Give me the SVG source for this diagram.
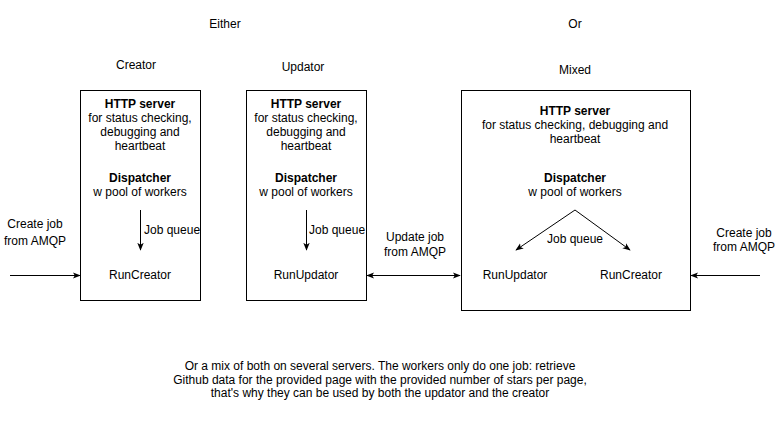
<svg xmlns="http://www.w3.org/2000/svg" width="782" height="422" viewBox="0 0 782 422">
<style>
text{font-family:"Liberation Sans",Arial,sans-serif;font-size:12px;fill:#000;text-anchor:middle}
.b{font-weight:bold}
.l{text-anchor:start}
.box{fill:#fff;stroke:#000;stroke-width:1}
.c{stroke:#000;stroke-width:1;fill:none}
</style>
<defs>
<marker id="ah" viewBox="0 0 10 10" refX="9" refY="5" markerWidth="8" markerHeight="8" orient="auto-start-reverse" markerUnits="userSpaceOnUse">
<path d="M0,1 L10,5 L0,9 L2.5,5 Z" fill="#000"/>
</marker>
</defs>
<rect width="782" height="422" fill="#fff"/>
<g id="titles">
<text x="225" y="28">Either</text>
<text x="575" y="28">Or</text>
<text x="136" y="69">Creator</text>
<text x="303" y="71">Updator</text>
<text x="575" y="74">Mixed</text>
</g>
<g id="creator">
<rect class="box" x="80.5" y="90.5" width="120" height="210"/>
<text class="b" x="140" y="108">HTTP server</text>
<text x="140" y="122">for status checking,</text>
<text x="140" y="136">debugging and</text>
<text x="140" y="150">heartbeat</text>
<text class="b" x="140" y="182">Dispatcher</text>
<text x="140" y="196">w pool of workers</text>
<text class="l" x="144" y="234">Job queue</text>
<text x="140" y="279">RunCreator</text>
</g>
<g id="updator">
<rect class="box" x="246.5" y="90.5" width="120" height="210"/>
<text class="b" x="306" y="108">HTTP server</text>
<text x="306" y="122">for status checking,</text>
<text x="306" y="136">debugging and</text>
<text x="306" y="150">heartbeat</text>
<text class="b" x="306" y="182">Dispatcher</text>
<text x="306" y="196">w pool of workers</text>
<text class="l" x="309" y="234">Job queue</text>
<text x="306" y="279">RunUpdator</text>
</g>
<g id="mixed">
<rect class="box" x="461.5" y="90.5" width="229" height="220"/>
<text class="b" x="575" y="115">HTTP server</text>
<text x="575" y="129">for status checking, debugging and</text>
<text x="575" y="143">heartbeat</text>
<text class="b" x="575" y="182">Dispatcher</text>
<text x="575" y="196">w pool of workers</text>
<text x="575" y="243">Job queue</text>
<text x="515" y="279">RunUpdator</text>
<text x="631" y="279">RunCreator</text>
</g>
<g id="labels">
<text x="35" y="228">Create job</text>
<text x="35" y="245">from AMQP</text>
<text x="415" y="241">Update job</text>
<text x="415" y="256">from AMQP</text>
<text x="744" y="237">Create job</text>
<text x="744" y="251">from AMQP</text>
</g>
<g id="connectors">
<line class="c" x1="10" y1="275.5" x2="80" y2="275.5" marker-end="url(#ah)"/>
<line class="c" x1="140.5" y1="210" x2="140.5" y2="250" marker-end="url(#ah)"/>
<line class="c" x1="306.5" y1="210" x2="306.5" y2="250" marker-end="url(#ah)"/>
<line class="c" x1="367" y1="275.5" x2="460" y2="275.5" marker-start="url(#ah)" marker-end="url(#ah)"/>
<line class="c" x1="575" y1="210" x2="516" y2="250" marker-end="url(#ah)"/>
<line class="c" x1="575" y1="210" x2="630" y2="250" marker-end="url(#ah)"/>
<line class="c" x1="760" y1="275.5" x2="691" y2="275.5" marker-end="url(#ah)"/>
</g>
<g id="note">
<text x="380" y="370">Or a mix of both on several servers. The workers only do one job: retrieve</text>
<text x="380" y="384">Github data for the provided page with the provided number of stars per page,</text>
<text x="380" y="397">that's why they can be used by both the updator and the creator</text>
</g>
</svg>
